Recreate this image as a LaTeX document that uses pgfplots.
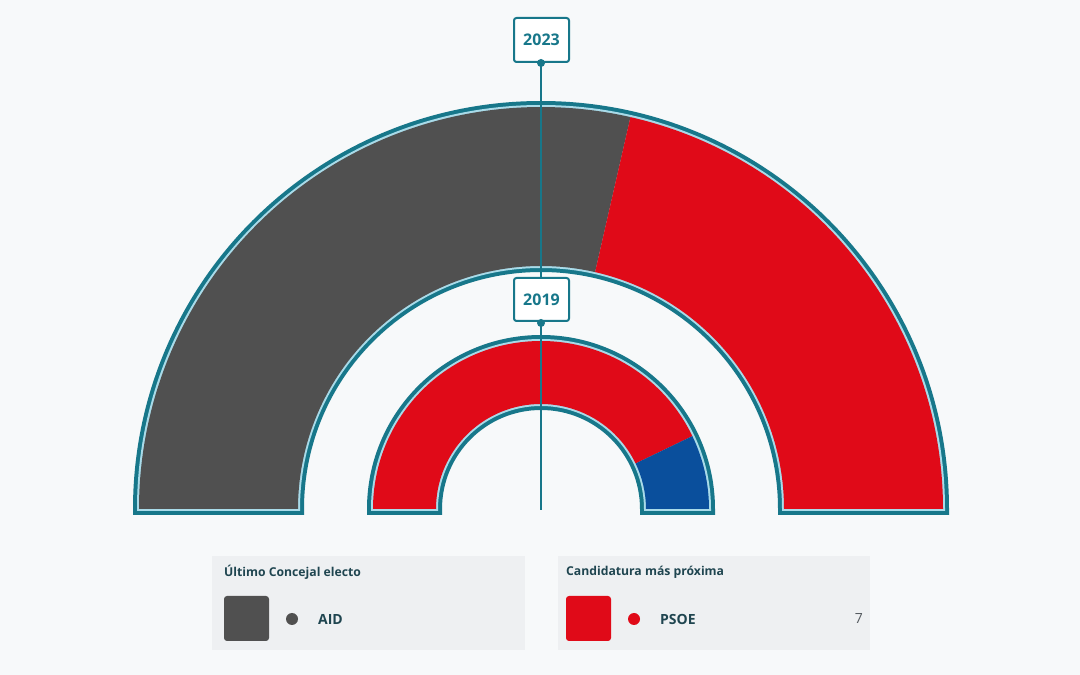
\documentclass[border=0pt]{standalone}
\usepackage{fontspec}
\setmainfont{Open Sans}
\usepackage{pgfplots}
\usepackage{pgfplotstable}
\pgfplotsset{compat=1.18}
\definecolor{bgc}{HTML}{F7F9FA}
\definecolor{panelc}{HTML}{EEF0F2}
\definecolor{tealc}{HTML}{17778A}
\definecolor{lblue}{HTML}{A9DBE9}
\definecolor{aidgray}{HTML}{505050}
\definecolor{psoered}{HTML}{E00A18}
\definecolor{ppblue}{HTML}{0A4F9C}
\definecolor{txtc}{HTML}{1F4550}
\definecolor{numc}{HTML}{555B60}

% seats 2023 (outer ring) and 2019 (inner ring)
\pgfplotstableread{
party seats
AID 4
PSOE 3
}\seatsA
\pgfplotstableread{
party seats
PSOE 6
PP 1
}\seatsB

\newcommand\annulus[4]{%
 \fill[#1] ([shift={(C)}]-#3pt,-#4pt) -- ([shift={(C)}]180:#3pt)
   arc[start angle=180,end angle=0,radius=#3pt] -- ([shift={(C)}]#3pt,-#4pt)
   -- ([shift={(C)}]#2pt,-#4pt) -- ([shift={(C)}]0:#2pt)
   arc[start angle=0,end angle=180,radius=#2pt] -- ([shift={(C)}]-#2pt,-#4pt) -- cycle;}
\newcommand\ringwedge[5]{% color, rin, rout, a1, a2
 \fill[#1] ([shift={(C)}]#4:#3pt) arc[start angle=#4,end angle=#5,radius=#3pt]
   -- ([shift={(C)}]#5:#2pt) arc[start angle=#5,end angle=#4,radius=#2pt] -- cycle;}

\begin{document}
\begin{tikzpicture}
\pgfplotstablegetelem{0}{seats}\of\seatsA\edef\aidA{\pgfplotsretval}
\pgfplotstablegetelem{1}{seats}\of\seatsA\edef\psoeA{\pgfplotsretval}
\pgfplotstablegetelem{0}{seats}\of\seatsB\edef\psoeB{\pgfplotsretval}
\pgfplotstablegetelem{1}{seats}\of\seatsB\edef\ppB{\pgfplotsretval}
\pgfmathsetmacro\angA{180-180*\aidA/(\aidA+\psoeA)}
\pgfmathsetmacro\angB{180-180*\psoeB/(\psoeB+\ppB)}
\begin{axis}[scale only axis, width=1080pt, height=675pt,
  xmin=0, xmax=1080, ymin=0, ymax=675, hide axis, clip=false]
\fill[bgc] (axis cs:0,0) rectangle (axis cs:1080,675);
\coordinate (C) at (axis cs:541,166);
% outer ring 2023
\annulus{tealc}{237}{408}{6}
\annulus{lblue}{241}{404}{2}
\ringwedge{aidgray}{243}{402}{180}{\angA}
\ringwedge{psoered}{243}{402}{\angA}{0}
% inner ring 2019
\annulus{tealc}{99}{174}{6}
\annulus{lblue}{103}{170}{2}
\ringwedge{psoered}{105}{168}{180}{\angB}
\ringwedge{ppblue}{105}{168}{\angB}{0}
% marker line
\draw[tealc, line width=2pt] (axis cs:541,613) -- (axis cs:541,165);
\node[draw=tealc, line width=2pt, fill=white, rounded corners=2.5pt, minimum width=55pt, minimum height=44pt, text=tealc, font=\fontsize{16}{18}\selectfont\bfseries] at (axis cs:541.5,635) {2023};
\fill[tealc] (axis cs:541,612) circle[radius=4pt];
\node[draw=tealc, line width=2pt, fill=white, rounded corners=2.5pt, minimum width=55pt, minimum height=43pt, text=tealc, font=\fontsize{16}{18}\selectfont\bfseries] at (axis cs:541.5,375.5) {2019};
\fill[tealc] (axis cs:541,352) circle[radius=4pt];
% panels
\fill[panelc] (axis cs:212,25) rectangle (axis cs:525,119);
\fill[panelc] (axis cs:558,25) rectangle (axis cs:870,119);
\node[anchor=west, inner sep=0pt, text=txtc, font=\fontsize{12.2}{14}\selectfont\bfseries] at (axis cs:224,103) {Último Concejal electo};
\node[anchor=west, inner sep=0pt, text=txtc, font=\fontsize{12.2}{14}\selectfont\bfseries] at (axis cs:566,103) {Candidatura más próxima};
\fill[aidgray, rounded corners=3pt] (axis cs:224,34) rectangle (axis cs:269,79);
\fill[aidgray] (axis cs:292,56) circle[radius=6pt];
\node[anchor=west, inner sep=0pt, text=txtc, font=\fontsize{14}{16}\selectfont\bfseries] at (axis cs:318,56) {AID};
\fill[psoered, rounded corners=3pt] (axis cs:566,34) rectangle (axis cs:611,79);
\fill[psoered] (axis cs:634,56) circle[radius=6pt];
\node[anchor=west, inner sep=0pt, text=txtc, font=\fontsize{14}{16}\selectfont\bfseries] at (axis cs:660,56) {PSOE};
\node[anchor=east, inner sep=0pt, text=numc, font=\fontsize{14}{16}\selectfont] at (axis cs:863,56) {7};
\end{axis}
\end{tikzpicture}
\end{document}
